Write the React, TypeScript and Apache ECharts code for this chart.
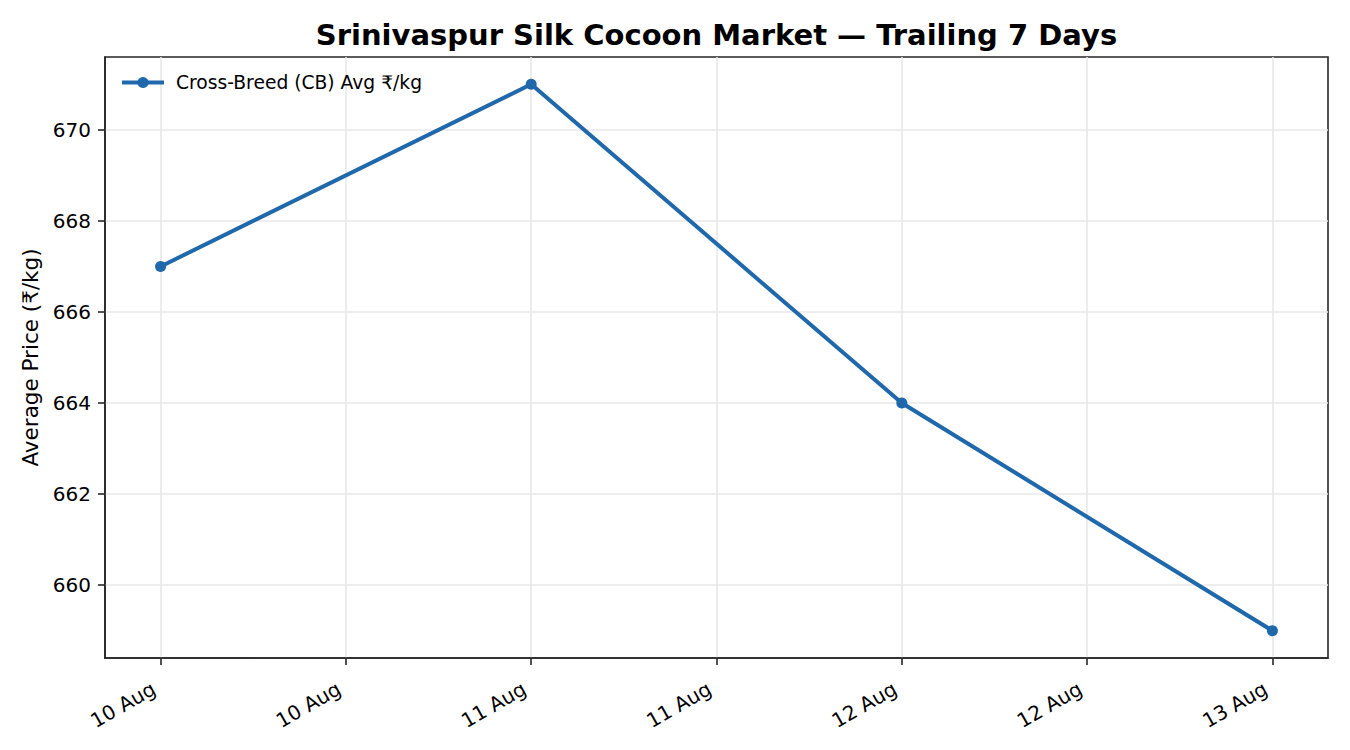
import React, { useEffect, useRef } from "react";
import * as echarts from "echarts";

const chartTitle = "Srinivaspur Silk Cocoon Market — Trailing 7 Days";
const seriesName = "Cross-Breed (CB) Avg ₹/kg";
const yAxisName = "Average Price (₹/kg)";
// hours since 10 Aug 00:00
const dayHours = [0, 24, 48, 72];
const prices = [667, 671, 664, 659];
const xTickHours = [0, 12, 24, 36, 48, 60, 72];
const xTickLabels = ["10 Aug", "10 Aug", "11 Aug", "11 Aug", "12 Aug", "12 Aug", "13 Aug"];
const yTicks = [660, 662, 664, 666, 668, 670];

const FONT = '"DejaVu Sans", "Noto Sans", sans-serif';
const BLUE = "#1f68ab";
const DARK = "#262626";
const GRID = "#e8e8e8";

export default function App() {
  const ref = useRef<HTMLDivElement>(null);
  useEffect(() => {
    if (!ref.current) return;
    const chart = echarts.init(ref.current, null, { renderer: "svg" });
    const data = dayHours.map((h, i) => [h, prices[i]]);
    chart.setOption({
      animation: false,
      backgroundColor: "#ffffff",
      textStyle: { fontFamily: FONT },
      graphic: [
        {
          type: "text",
          x: 716.5,
          y: 20,
          style: {
            text: chartTitle,
            fill: "#000000",
            fontFamily: FONT,
            fontSize: 29,
            fontWeight: "bold",
            align: "center",
            verticalAlign: "top",
          },
        },
      ],
      legend: {
        left: 120,
        top: 73,
        padding: 0,
        itemWidth: 42,
        itemHeight: 14,
        data: [seriesName],
        lineStyle: { width: 4 },
        textStyle: {
          fontFamily: FONT,
          fontSize: 18.7,
          color: "#000000",
          padding: [0, 0, 0, 7],
        },
      },
      grid: {
        left: 105,
        right: 22,
        top: 57,
        bottom: 92,
        show: true,
        borderColor: DARK,
        borderWidth: 1.6,
        backgroundColor: "transparent",
      },
      xAxis: {
        type: "value",
        min: -3.6,
        max: 75.6,
        axisLine: { show: true, onZero: false, lineStyle: { color: DARK, width: 1.6 } },
        axisTick: {
          show: true,
          length: 7,
          customValues: xTickHours,
          lineStyle: { color: DARK, width: 1.6 },
        },
        axisLabel: {
          customValues: xTickHours,
          rotate: 30,
          margin: 25,
          padding: [0, 8, 0, 0],
          fontFamily: FONT,
          fontSize: 20,
          color: "#000000",
          formatter: (v: number) => {
            const i = xTickHours.indexOf(v);
            return i >= 0 ? xTickLabels[i] : "";
          },
        },
        splitLine: { show: true, lineStyle: { color: GRID, width: 1.6 } },
      },
      yAxis: {
        type: "value",
        min: 658.4,
        max: 671.6,
        name: yAxisName,
        nameLocation: "middle",
        nameGap: 61,
        nameTextStyle: { fontFamily: FONT, fontSize: 21.5, color: "#000000" },
        axisLine: { show: true, onZero: false, lineStyle: { color: DARK, width: 1.6 } },
        axisTick: {
          show: true,
          length: 7,
          customValues: yTicks,
          lineStyle: { color: DARK, width: 1.6 },
        },
        axisLabel: {
          customValues: yTicks,
          margin: 14,
          fontFamily: FONT,
          fontSize: 20,
          color: "#000000",
        },
        splitLine: { show: true, lineStyle: { color: GRID, width: 1.6 } },
      },
      series: [
        {
          name: seriesName,
          type: "line",
          data,
          symbol: "circle",
          symbolSize: 11,
          showSymbol: true,
          lineStyle: { color: BLUE, width: 4 },
          itemStyle: { color: BLUE },
        },
      ],
    });
    return () => chart.dispose();
  }, []);
  return <div ref={ref} style={{ width: 1350, height: 750, margin: -8 }} />;
}
